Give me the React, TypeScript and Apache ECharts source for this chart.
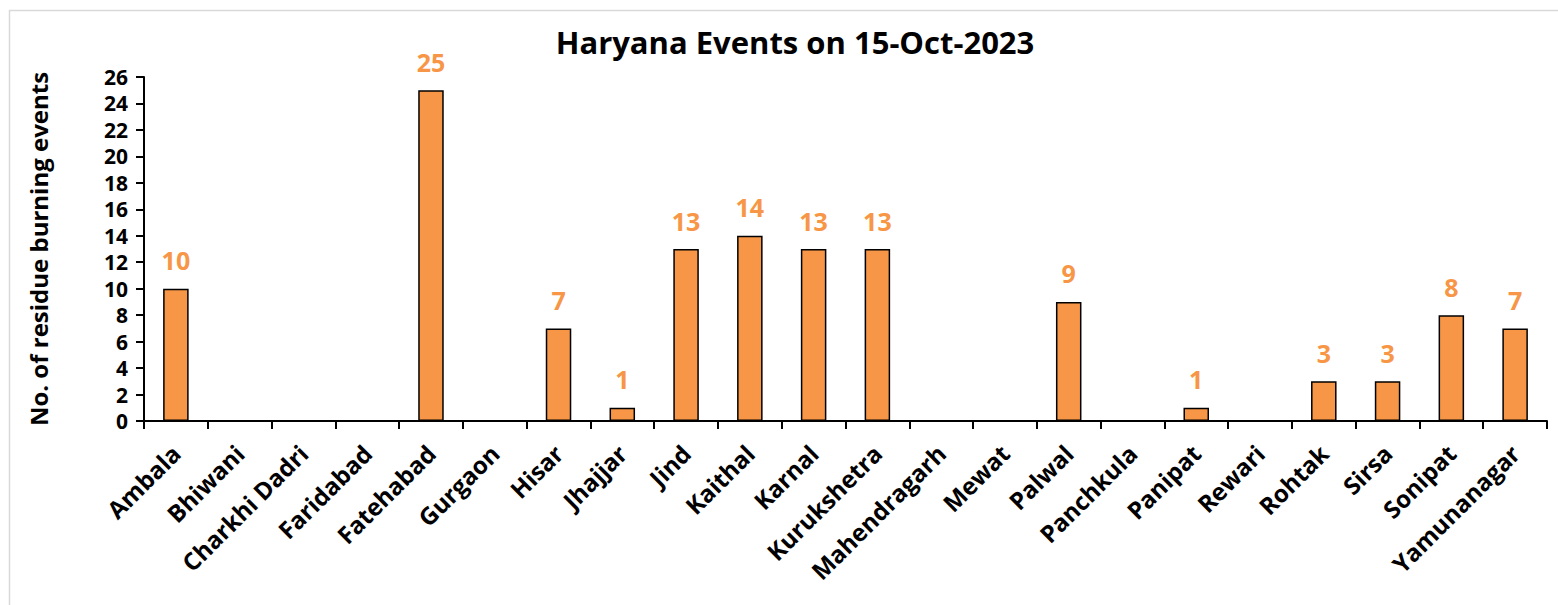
import React, { useEffect, useRef } from "react";
import * as echarts from "echarts";

const districts = ["Ambala","Bhiwani","Charkhi Dadri","Faridabad","Fatehabad","Gurgaon","Hisar","Jhajjar","Jind","Kaithal","Karnal","Kurukshetra","Mahendragarh","Mewat","Palwal","Panchkula","Panipat","Rewari","Rohtak","Sirsa","Sonipat","Yamunanagar"];
const events = [10,0,0,0,25,0,7,1,13,14,13,13,0,0,9,0,1,0,3,3,8,7];
const titleText = "Haryana Events on 15-Oct-2023";
const yAxisName = "No. of residue burning events";

export default function App() {
  const ref = useRef<HTMLDivElement>(null);
  useEffect(() => {
    document.body.style.margin = "0";
    const chart = echarts.init(ref.current!, null, { renderer: "svg" });
    const font = "'Open Sans', Calibri, sans-serif";
    chart.setOption({
      animation: false,
      backgroundColor: "#ffffff",
      textStyle: { fontFamily: font },
      title: {
        text: titleText,
        left: 790,
        top: 21,
        textAlign: "center",
        textStyle: { fontSize: 31, fontWeight: "bold", color: "#000", fontFamily: font },
      },
      graphic: [
        {
          type: "rect",
          shape: { x: 9.5, y: 10.5, width: 1600, height: 700 },
          style: { fill: "none", stroke: "#d9d9d9", lineWidth: 1.5 },
          silent: true,
        },
      ],
      grid: { left: 144, right: 11, top: 77, bottom: 184, containLabel: false },
      xAxis: {
        type: "category",
        data: districts,
        axisLine: { lineStyle: { color: "#000", width: 2 } },
        axisTick: { show: true, length: 8, lineStyle: { color: "#000", width: 2 }, alignWithLabel: false },
        axisLabel: {
          rotate: 45,
          interval: 0,
          margin: 28,
          fontSize: 24,
          fontWeight: "bold",
          color: "#000",
          fontFamily: font,
        },
      },
      yAxis: {
        type: "value",
        min: 0,
        max: 26,
        interval: 2,
        name: yAxisName,
        nameLocation: "middle",
        nameGap: 94,
        nameTextStyle: { fontSize: 24, fontWeight: "bold", color: "#000", fontFamily: font },
        axisLine: { show: true, lineStyle: { color: "#000", width: 2 } },
        axisTick: { show: true, length: 8, lineStyle: { color: "#000", width: 2 } },
        axisLabel: { fontSize: 21, lineHeight: 21, fontWeight: "bold", color: "#000", margin: 16, fontFamily: font },
        splitLine: { show: false },
      },
      series: [
        {
          type: "bar",
          data: events.map((v) => (v === 0 ? null : v)),
          barWidth: "40%",
          itemStyle: { color: "#F79646", borderColor: "#000", borderWidth: 1.5 },
          label: {
            show: true,
            position: "top",
            distance: 16,
            fontSize: 25,
            fontWeight: "bold",
            color: "#F79646",
            fontFamily: font,
          },
        },
      ],
    });
    return () => chart.dispose();
  }, []);
  return <div ref={ref} style={{ width: 1558, height: 605 }} />;
}
